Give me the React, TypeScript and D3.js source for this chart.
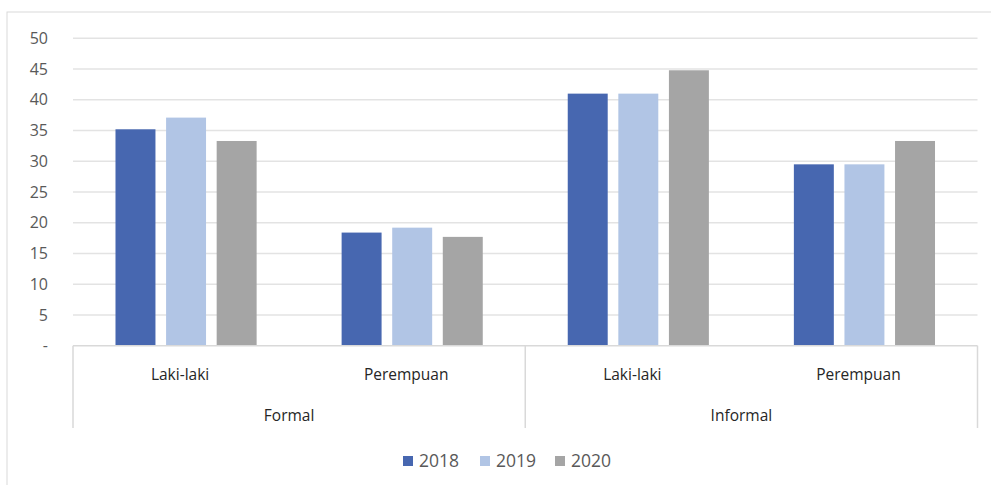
import React from "react";
import * as d3 from "d3";

const groups = ["Formal", "Informal"];
const subCategories = ["Laki-laki", "Perempuan"];
const series = ["2018", "2019", "2020"];
const values2018 = [35.2, 18.4, 41.0, 29.5];
const values2019 = [37.1, 19.2, 41.0, 29.5];
const values2020 = [33.3, 17.7, 44.8, 33.3];
const yTicks = [0, 5, 10, 15, 20, 25, 30, 35, 40, 45, 50];
const colors = ["#4767B0", "#B1C5E5", "#A5A5A5"];

const W = 991;
const H = 485;
const plotLeft = 73;
const plotRight = 977.5;
const plotTop = 38.3;
const plotBottom = 345.7;
const font = "'Open Sans', sans-serif";

export default function App() {
  const cats = groups.flatMap((g) => subCategories.map((s) => `${g}|${s}`));
  const x0 = d3.scaleBand<string>().domain(cats).range([plotLeft, plotRight]).paddingInner(0).paddingOuter(0);
  const x1 = d3
    .scaleBand<string>()
    .domain(series)
    .range([0, x0.bandwidth()])
    .paddingInner(0.21)
    .paddingOuter(0.84);
  const y = d3.scaleLinear().domain([0, 50]).range([plotBottom, plotTop]);
  const gx = d3.scaleBand<string>().domain(groups).range([plotLeft, plotRight]);
  const allValues = [values2018, values2019, values2020];

  const legendX = [403, 480, 555];

  return (
    <svg width={W} height={H} style={{ position: "absolute", left: 0, top: 0, background: "#fff" }}>
      <rect x={7} y={12} width={W} height={H} fill="#fff" stroke="#d9d9d9" strokeWidth={1} />
      {yTicks.map((t) => (
        <g key={t}>
          {t > 0 && (
            <line x1={plotLeft} x2={plotRight} y1={y(t)} y2={y(t)} stroke="#e3e3e3" strokeWidth={1.5} />
          )}
          <text
            x={48}
            y={y(t)}
            dy="0.35em"
            textAnchor="end"
            fontFamily={font}
            fontSize={16}
            fill="#595959"
          >
            {t === 0 ? "-" : t}
          </text>
        </g>
      ))}
      {cats.map((c, ci) =>
        series.map((s, si) => {
          const v = allValues[si][ci];
          return (
            <rect
              key={c + s}
              x={(x0(c) ?? 0) + (x1(s) ?? 0)}
              y={y(v)}
              width={x1.bandwidth()}
              height={y(0) - y(v)}
              fill={colors[si]}
            />
          );
        })
      )}
      <line x1={plotLeft} x2={plotRight} y1={plotBottom} y2={plotBottom} stroke="#d9d9d9" strokeWidth={1.5} />
      {[plotLeft, gx("Informal") ?? 0, plotRight].map((xv, i) => (
        <line key={i} x1={xv} x2={xv} y1={plotBottom} y2={428} stroke="#d9d9d9" strokeWidth={1.5} />
      ))}
      {cats.map((c) => (
        <text
          key={c}
          x={(x0(c) ?? 0) + x0.bandwidth() / 2 - 6}
          y={375}
          dy="0.35em"
          textAnchor="middle"
          fontFamily={font}
          fontSize={15.5}
          fill="#262626"
        >
          {c.split("|")[1]}
        </text>
      ))}
      {groups.map((g) => (
        <text
          key={g}
          x={(gx(g) ?? 0) + gx.bandwidth() / 2 - 10}
          y={415.5}
          dy="0.35em"
          textAnchor="middle"
          fontFamily={font}
          fontSize={15.5}
          fill="#262626"
        >
          {g}
        </text>
      ))}
      {series.map((s, i) => (
        <g key={s}>
          <rect x={legendX[i]} y={456} width={10} height={10} fill={colors[i]} />
          <text
            x={legendX[i] + 16}
            y={461}
            dy="0.35em"
            fontFamily={font}
            fontSize={17.5}
            fill="#595959"
          >
            {s}
          </text>
        </g>
      ))}
    </svg>
  );
}
